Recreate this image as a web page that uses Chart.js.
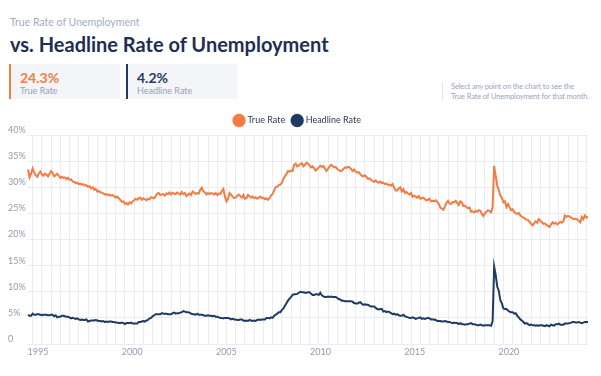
<!DOCTYPE html>
<html>
<head>
<meta charset="utf-8">
<script src="https://cdn.jsdelivr.net/npm/chart.js@4"></script>
<style>
  body { margin: 0; background: #fff; font-family: Lato, "Open Sans", sans-serif; width: 601px; height: 376px; overflow: hidden; position: relative; }
  .kicker { position: absolute; left: 10px; top: 16px; font-size: 10.5px; color: #9fadc4; }
  h1 { position: absolute; left: 10px; top: 32px; margin: 0; font-size: 20px; font-weight: 700; color: #1e2f52; }
  .stat { position: absolute; top: 64px; width: 111px; height: 35px; background: #f4f5f8; border-left: 2px solid; box-sizing: border-box; padding: 6px 0 0 9px; }
  .stat .num { font-size: 14px; font-weight: 700; line-height: 15px; }
  .stat .lbl { font-size: 9px; color: #98a3b6; line-height: 11px; }
  .note { position: absolute; left: 442px; top: 82px; border-left: 1px solid #e3e6ec; padding-left: 8px; font-size: 7.5px; letter-spacing: -0.15px; line-height: 9.5px; color: #9aa6ba; white-space: nowrap; }
  #wrap { position: absolute; left: 0; top: 108px; width: 601px; height: 268px; }
</style>
</head>
<body>
<div class="kicker">True Rate of Unemployment</div>
<h1>vs. Headline Rate of Unemployment</h1>
<div class="stat" style="left:9px; border-color:#f47b42;"><div class="num" style="color:#f47b42;">24.3%</div><div class="lbl">True Rate</div></div>
<div class="stat" style="left:126px; border-color:#1f3a63;"><div class="num" style="color:#1f3a63;">4.2%</div><div class="lbl">Headline Rate</div></div>
<div class="note">Select any point on the chart to see the<br>True Rate of Unemployment for that month.</div>
<div id="wrap"><canvas id="chart"></canvas></div>
<script>
// Monthly series, Jan 1995 - May 2025
const startYear = 1995;
const yearTicks = [1995, 2000, 2005, 2010, 2015, 2020];

const trueRate = [
  33.4, 31.9, 32.6, 33.6, 32.8, 32.3, 32.0, 32.6, 33.0, 32.5, 32.2, 32.6, // 1995
  32.4, 32.1, 32.6, 33.1, 32.7, 32.1, 32.3, 32.6, 32.2, 31.8, 32.0, 31.8, // 1996
  31.9, 31.6, 31.8, 31.4, 31.5, 31.1, 31.0, 30.8, 30.9, 30.6, 30.7, 30.5, // 1997
  30.6, 30.3, 30.4, 30.1, 30.2, 29.8, 30.0, 29.5, 29.7, 29.2, 29.3, 29.0, // 1998
  29.0, 28.8, 28.6, 28.7, 28.5, 28.6, 28.4, 28.5, 28.3, 28.0, 28.2, 27.9, // 1999
  27.6, 27.2, 27.3, 26.8, 27.0, 26.7, 27.1, 26.9, 27.3, 27.5, 27.8, 27.6, // 2000
  27.9, 28.0, 27.6, 27.9, 27.7, 27.5, 27.8, 27.7, 28.1, 28.0, 27.9, 28.3, // 2001
  28.8, 28.9, 28.5, 28.6, 28.7, 28.4, 28.8, 28.7, 29.0, 28.6, 28.9, 28.8, // 2002
  28.7, 29.0, 28.8, 28.6, 29.1, 28.7, 28.9, 28.3, 28.6, 28.8, 28.5, 29.2, // 2003
  29.0, 28.7, 28.9, 28.8, 29.5, 29.9, 29.2, 29.0, 28.6, 28.9, 28.7, 28.9, // 2004
  28.8, 28.6, 28.9, 28.5, 28.8, 28.7, 29.3, 29.7, 28.2, 27.3, 27.8, 28.9, // 2005
  28.6, 28.2, 27.9, 28.0, 28.4, 28.6, 28.3, 28.0, 28.5, 27.8, 27.9, 28.5, // 2006
  28.3, 28.0, 28.2, 27.9, 28.1, 27.8, 28.0, 28.2, 27.9, 28.0, 27.7, 27.9, // 2007
  27.6, 27.9, 28.4, 28.7, 29.4, 30.0, 30.1, 30.4, 30.5, 30.8, 31.6, 32.1, // 2008
  32.5, 33.1, 33.0, 33.2, 33.1, 34.3, 34.5, 34.0, 34.2, 34.4, 34.6, 34.0, // 2009
  34.3, 34.7, 34.5, 34.2, 33.8, 34.0, 33.6, 33.2, 33.5, 33.8, 34.1, 33.9, // 2010
  34.1, 33.6, 33.1, 33.5, 34.0, 34.3, 34.1, 33.8, 33.9, 33.5, 33.3, 33.1, // 2011
  33.2, 33.5, 33.8, 33.7, 33.9, 33.8, 33.5, 33.1, 33.4, 33.0, 32.8, 32.9, // 2012
  32.5, 32.2, 32.1, 32.3, 32.0, 31.6, 31.7, 31.4, 31.2, 31.0, 31.3, 31.0, // 2013
  30.9, 31.1, 30.8, 30.9, 30.6, 30.7, 30.4, 30.5, 30.3, 30.6, 29.9, 29.4, // 2014
  29.4, 29.8, 30.0, 29.2, 29.6, 28.9, 29.1, 28.8, 28.6, 28.9, 28.2, 28.4, // 2015
  28.2, 28.0, 28.3, 27.8, 27.9, 28.0, 27.7, 27.5, 27.6, 27.8, 27.3, 27.4, // 2016
  27.3, 27.5, 27.2, 26.8, 26.1, 25.9, 25.7, 26.3, 27.0, 27.4, 26.9, 26.8, // 2017
  27.2, 27.1, 27.4, 27.0, 26.6, 27.3, 27.1, 26.4, 26.5, 26.2, 26.0, 26.1, // 2018
  25.3, 25.4, 25.2, 25.5, 25.3, 25.6, 25.5, 24.9, 24.5, 25.0, 25.3, 25.6, // 2019
  25.4, 25.2, 26.2, 34.1, 32.2, 30.3, 29.5, 28.4, 28.0, 27.1, 27.3, 26.2, // 2020
  26.8, 26.2, 25.6, 25.8, 25.3, 25.0, 24.9, 25.1, 24.6, 24.4, 24.2, 24.0, // 2021
  23.8, 23.7, 23.4, 23.0, 22.7, 23.1, 23.5, 23.2, 23.9, 23.6, 23.3, 23.0, // 2022
  23.1, 22.8, 22.6, 22.4, 22.9, 23.3, 23.0, 23.2, 22.9, 23.1, 23.4, 23.2, // 2023
  23.5, 24.6, 24.3, 24.5, 24.4, 24.2, 24.0, 23.9, 24.0, 23.8, 23.6, 23.3, // 2024
  24.3, 23.9, 24.6, 24.2, 24.3                                            // 2025
];

const headlineRate = [
  5.6, 5.4, 5.4, 5.8, 5.6, 5.6, 5.7, 5.7, 5.6, 5.5, 5.6, 5.6, // 1995
  5.6, 5.5, 5.5, 5.6, 5.6, 5.3, 5.5, 5.1, 5.2, 5.2, 5.4, 5.4, // 1996
  5.3, 5.2, 5.2, 5.1, 4.9, 5.0, 4.9, 4.8, 4.9, 4.7, 4.6, 4.7, // 1997
  4.6, 4.6, 4.7, 4.3, 4.4, 4.5, 4.5, 4.5, 4.6, 4.5, 4.4, 4.4, // 1998
  4.3, 4.4, 4.2, 4.3, 4.2, 4.3, 4.3, 4.2, 4.2, 4.1, 4.1, 4.0, // 1999
  4.0, 4.1, 4.0, 3.8, 4.0, 4.0, 4.0, 4.1, 3.9, 3.9, 3.9, 3.9, // 2000
  4.2, 4.2, 4.3, 4.4, 4.3, 4.5, 4.6, 4.9, 5.0, 5.3, 5.5, 5.7, // 2001
  5.7, 5.7, 5.7, 5.9, 5.8, 5.8, 5.8, 5.7, 5.7, 5.7, 5.9, 6.0, // 2002
  5.8, 5.9, 5.9, 6.0, 6.1, 6.3, 6.2, 6.1, 6.1, 6.0, 5.8, 5.7, // 2003
  5.7, 5.6, 5.8, 5.6, 5.6, 5.6, 5.5, 5.4, 5.4, 5.5, 5.4, 5.4, // 2004
  5.3, 5.4, 5.2, 5.2, 5.1, 5.0, 5.0, 4.9, 5.0, 5.0, 5.0, 4.9, // 2005
  4.7, 4.8, 4.7, 4.7, 4.6, 4.6, 4.7, 4.7, 4.5, 4.4, 4.5, 4.4, // 2006
  4.6, 4.5, 4.4, 4.5, 4.4, 4.6, 4.7, 4.6, 4.7, 4.7, 4.7, 5.0, // 2007
  5.0, 4.9, 5.1, 5.0, 5.4, 5.6, 5.8, 6.1, 6.1, 6.5, 6.8, 7.3, // 2008
  7.8, 8.3, 8.7, 9.0, 9.4, 9.5, 9.5, 9.6, 9.8, 10.0, 9.9, 9.9, // 2009
  9.8, 9.8, 9.9, 9.9, 9.6, 9.4, 9.4, 9.5, 9.5, 9.4, 9.8, 9.3, // 2010
  9.1, 9.0, 9.0, 9.1, 9.0, 9.1, 9.0, 9.0, 9.0, 8.8, 8.6, 8.5, // 2011
  8.3, 8.3, 8.2, 8.2, 8.2, 8.2, 8.2, 8.1, 7.8, 7.8, 7.7, 7.9, // 2012
  8.0, 7.7, 7.5, 7.6, 7.5, 7.5, 7.3, 7.2, 7.2, 7.2, 6.9, 6.7, // 2013
  6.6, 6.7, 6.7, 6.2, 6.3, 6.1, 6.2, 6.1, 5.9, 5.7, 5.8, 5.6, // 2014
  5.7, 5.5, 5.4, 5.4, 5.6, 5.3, 5.2, 5.1, 5.0, 5.0, 5.1, 5.0, // 2015
  4.8, 4.9, 5.0, 5.1, 4.8, 4.9, 4.8, 4.9, 5.0, 4.9, 4.7, 4.7, // 2016
  4.7, 4.6, 4.4, 4.4, 4.4, 4.3, 4.3, 4.4, 4.3, 4.2, 4.2, 4.1, // 2017
  4.0, 4.1, 4.0, 4.0, 3.8, 4.0, 3.8, 3.8, 3.7, 3.8, 3.8, 3.9, // 2018
  4.0, 3.8, 3.8, 3.7, 3.6, 3.6, 3.7, 3.6, 3.5, 3.6, 3.6, 3.6, // 2019
  3.6, 3.5, 4.4, 14.8, 13.2, 11.0, 10.2, 8.4, 7.8, 6.8, 6.7, 6.7, // 2020
  6.4, 6.2, 6.1, 6.1, 5.8, 5.9, 5.4, 5.1, 4.7, 4.5, 4.2, 3.9, // 2021
  4.0, 3.8, 3.6, 3.7, 3.6, 3.6, 3.5, 3.6, 3.5, 3.6, 3.6, 3.5, // 2022
  3.4, 3.6, 3.5, 3.4, 3.7, 3.6, 3.5, 3.8, 3.8, 3.9, 3.7, 3.7, // 2023
  3.7, 3.9, 3.9, 3.9, 4.0, 4.1, 4.2, 4.2, 4.1, 4.1, 4.2, 4.1, // 2024
  4.0, 4.1, 4.2, 4.2, 4.2                                     // 2025
];

const monthLabels = trueRate.map((v, i) => {
  const y = startYear + Math.floor(i / 12);
  return y + '-' + String(i % 12 + 1).padStart(2, '0');
});

const tickFont = { family: 'Lato', size: 9 };

new Chart(document.getElementById('chart'), {
  type: 'line',
  data: {
    labels: monthLabels,
    datasets: [{
      label: 'True Rate',
      data: trueRate,
      borderColor: '#f47b42',
      backgroundColor: '#f47b42',
      borderWidth: 2,
      pointRadius: 0,
      tension: 0
    }, {
      label: 'Headline Rate',
      data: headlineRate,
      borderColor: '#1f3a63',
      backgroundColor: '#1f3a63',
      borderWidth: 2,
      pointRadius: 0,
      tension: 0
    }]
  },
  options: {
    responsive: true,
    maintainAspectRatio: false,
    animation: false,
    layout: { padding: { left: 8, right: 13, bottom: 16 } },
    plugins: {
      tooltip: { enabled: false },
      legend: {
        position: 'top',
        labels: {
          usePointStyle: true,
          pointStyle: 'circle',
          boxWidth: 8,
          boxHeight: 8,
          padding: 8,
          color: '#2d3a4f',
          font: { family: 'Lato', size: 9 }
        }
      }
    },
    scales: {
      x: {
        type: 'category',
        border: { display: false },
        grid: {
          drawTicks: false,
          // a vertical line every six months
          color: ctx => (ctx.index % 6 === 3 ? '#e9ecf2' : 'rgba(0,0,0,0)')
        },
        afterFit: axis => { axis.height = 0; },
        ticks: { display: false, autoSkip: false }
      },
      x2: {
        type: 'linear',
        position: 'bottom',
        min: 1994.47,
        max: 2024.2,
        border: { display: false },
        grid: { display: false, drawTicks: false },
        afterBuildTicks: axis => { axis.ticks = yearTicks.map(v => ({ value: v })); },
        afterFit: axis => { axis.height = 16; },
        ticks: {
          color: '#8e9ab0',
          font: tickFont,
          padding: 3,
          callback: v => String(v)
        }
      },
      y: {
        min: 0,
        max: 40,
        border: { display: false },
        grid: { color: '#e9ecf2', drawTicks: false },
        afterFit: axis => { axis.width = 20; },
        ticks: {
          stepSize: 5,
          crossAlign: 'far',
          padding: 0,
          labelOffset: -5,
          color: '#8e9ab0',
          font: tickFont,
          callback: v => (v === 0 ? '0' : v + '%')
        }
      }
    }
  }
});
</script>
</body>
</html>
